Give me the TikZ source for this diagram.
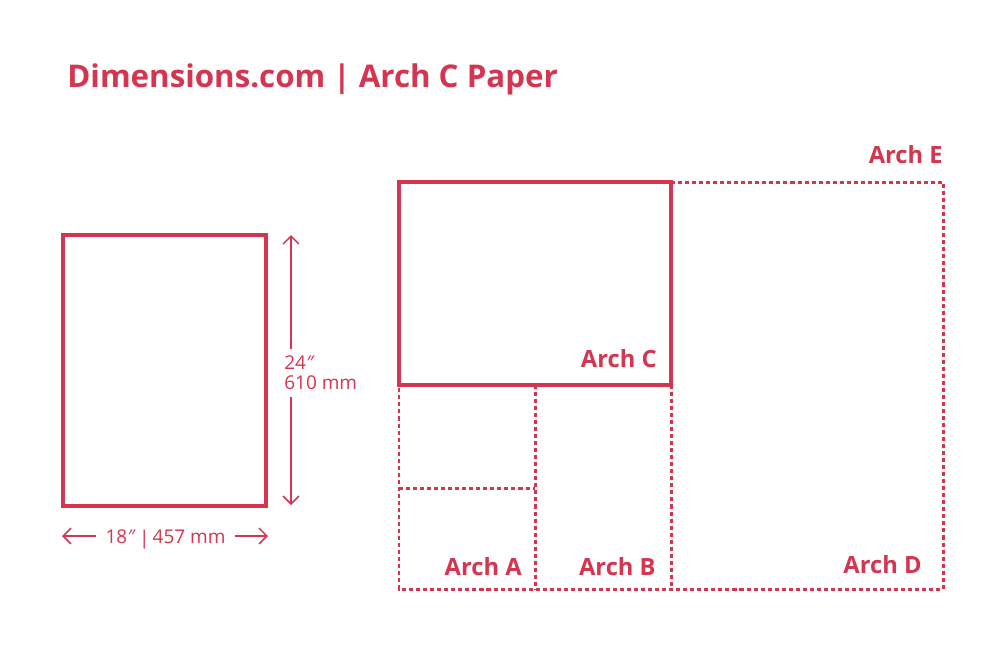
\documentclass[tikz,border=0pt]{standalone}
\usepackage{fontspec}
\setmainfont{Open Sans}
\usetikzlibrary{arrows.meta}
\definecolor{archred}{RGB}{212,53,80}

\begin{document}
\begin{tikzpicture}[x=0.02cm,y=-0.02cm,
			every node/.style={text=archred,inner sep=0pt},
			sheet/.style={draw=archred,line width=2.1pt},
			fold/.style={draw=archred,line width=1.7pt,dash pattern=on 2.3pt off 1.7pt},
			dimline/.style={draw=archred,line width=0.9pt,-{Straight Barb[length=4.5pt,width=9pt]}},
			archlabel/.style={anchor=base east,font=\bfseries\fontsize{13.5}{16}\selectfont},
			dimlabel/.style={font=\fontsize{10.8}{11.4}\selectfont}]
	\useasboundingbox[fill=white] (0,0) rectangle (1000,650);
	\node[anchor=base west,font=\bfseries\fontsize{17.8}{22}\selectfont] (title) at (67,87) {Dimensions.com | Arch C Paper};
	% one sheet with its sizes
	\draw[sheet] (63,235) rectangle (266,506);
	\coordinate (htop) at (291,235);
	\coordinate (hbot) at (291,505);
	\coordinate (wleft) at (62,536);
	\coordinate (wright) at (268,536);
	\node[dimlabel,anchor=west,align=left,inner ysep=4pt] (height) at (284,373) {24\textit{″}\\610 mm};
	\node[dimlabel,anchor=base,inner xsep=5pt] (width) at (165.5,543) {18\textit{″}\,\raisebox{-1pt}{|}\,457 mm};
	\draw[dimline] (height.north -| htop) -- (htop);
	\draw[dimline] (height.south -| hbot) -- (hbot);
	\draw[dimline] (width.west |- wleft) -- (wleft);
	\draw[dimline] (width.east |- wright) -- (wright);
	% how the sheets nest
	\draw[fold] (671,182) -- (943,182) -- (943,589) -- (399,589) -- (399,385);
	\draw[fold] (535,385) -- (535,589);
	\draw[fold] (671,385) -- (671,589);
	\draw[fold] (399,488) -- (535,488);
	\draw[sheet] (399,182) rectangle (671,385);
	\node[archlabel] (archE) at (943,163) {Arch E};
	\node[archlabel] (archC) at (657,367) {Arch C};
	\node[archlabel] (archA) at (522,575) {Arch A};
	\node[archlabel] (archB) at (656,575) {Arch B};
	\node[archlabel] (archD) at (922,573) {Arch D};
\end{tikzpicture}
\end{document}
